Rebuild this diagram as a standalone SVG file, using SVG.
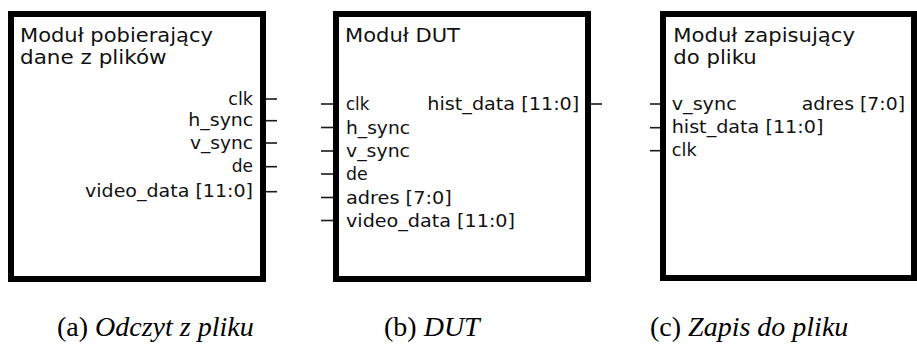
<svg xmlns="http://www.w3.org/2000/svg" width="917" height="354" viewBox="0 0 917 354">
  <style>
    .box { fill: #ffffff; stroke: #000000; stroke-width: 6; }
    .pin { stroke: #1a1a1a; stroke-width: 1.6; fill: none; }
    .title { font-family: "DejaVu Sans", Verdana, sans-serif; font-size: 20px; fill: #111111; }
    .sig { font-family: "DejaVu Sans", Verdana, sans-serif; font-size: 18.5px; fill: #111111; }
    .cap { font-family: "Liberation Serif", "Times New Roman", serif; font-size: 28px; fill: #000000; }
    .cap tspan.it { font-style: italic; }
  </style>
  <rect width="917" height="354" fill="#ffffff"/>

  <!-- file reader module -->
  <g id="reader">
    <rect class="box" x="11" y="14" width="252" height="265"/>
    <text class="title"><tspan x="20" y="41.5" textLength="193" lengthAdjust="spacingAndGlyphs">Moduł pobierający</tspan><tspan x="20" y="64" textLength="146.7" lengthAdjust="spacingAndGlyphs">dane z plików</tspan></text>
    <text class="sig" x="228.3" y="104.5" textLength="24.7" lengthAdjust="spacingAndGlyphs">clk</text>
    <text class="sig" x="188.3" y="126.3" textLength="65" lengthAdjust="spacingAndGlyphs">h_sync</text>
    <text class="sig" x="190" y="148.6" textLength="63" lengthAdjust="spacingAndGlyphs">v_sync</text>
    <text class="sig" x="231.7" y="172.2" textLength="21.3" lengthAdjust="spacingAndGlyphs">de</text>
    <text class="sig" x="85" y="197.2" textLength="168" lengthAdjust="spacingAndGlyphs">video_data [11:0]</text>
  </g>

  <!-- device under test -->
  <g id="dut">
    <rect class="box" x="336" y="14" width="252" height="265"/>
    <text class="title" x="345" y="41.5" textLength="115" lengthAdjust="spacingAndGlyphs">Moduł DUT</text>
    <text class="sig" x="346" y="110" textLength="23.3" lengthAdjust="spacingAndGlyphs">clk</text>
    <text class="sig" x="346" y="133.5" textLength="64" lengthAdjust="spacingAndGlyphs">h_sync</text>
    <text class="sig" x="346" y="157" textLength="64" lengthAdjust="spacingAndGlyphs">v_sync</text>
    <text class="sig" x="346" y="180" textLength="21.7" lengthAdjust="spacingAndGlyphs">de</text>
    <text class="sig" x="346" y="203.5" textLength="105.7" lengthAdjust="spacingAndGlyphs">adres [7:0]</text>
    <text class="sig" x="346" y="226.5" textLength="169" lengthAdjust="spacingAndGlyphs">video_data [11:0]</text>
    <text class="sig" x="427.3" y="110" textLength="152" lengthAdjust="spacingAndGlyphs">hist_data [11:0]</text>
  </g>

  <!-- file writer module -->
  <g id="writer">
    <rect class="box" x="663" y="14" width="251" height="264"/>
    <text class="title"><tspan x="673.3" y="41.5" textLength="181.7" lengthAdjust="spacingAndGlyphs">Moduł zapisujący</tspan><tspan x="673.3" y="64" textLength="83.4" lengthAdjust="spacingAndGlyphs">do pliku</tspan></text>
    <text class="sig" x="671.7" y="109.5" textLength="65" lengthAdjust="spacingAndGlyphs">v_sync</text>
    <text class="sig" x="671.7" y="133.3" textLength="151.7" lengthAdjust="spacingAndGlyphs">hist_data [11:0]</text>
    <text class="sig" x="671.7" y="156" textLength="25" lengthAdjust="spacingAndGlyphs">clk</text>
    <text class="sig" x="801.7" y="109.5" textLength="103.3" lengthAdjust="spacingAndGlyphs">adres [7:0]</text>
  </g>

  <!-- port stubs -->
  <g id="connectors">
    <line class="pin" x1="266" y1="99" x2="277" y2="99"/>
    <line class="pin" x1="266" y1="120.7" x2="277" y2="120.7"/>
    <line class="pin" x1="266" y1="143" x2="277" y2="143"/>
    <line class="pin" x1="266" y1="166.7" x2="277" y2="166.7"/>
    <line class="pin" x1="266" y1="191.7" x2="277" y2="191.7"/>

    <line class="pin" x1="321" y1="104" x2="333" y2="104"/>
    <line class="pin" x1="321" y1="127.5" x2="333" y2="127.5"/>
    <line class="pin" x1="321" y1="151" x2="333" y2="151"/>
    <line class="pin" x1="321" y1="174" x2="333" y2="174"/>
    <line class="pin" x1="321" y1="197.5" x2="333" y2="197.5"/>
    <line class="pin" x1="321" y1="220.5" x2="333" y2="220.5"/>
    <line class="pin" x1="591" y1="104" x2="602" y2="104"/>

    <line class="pin" x1="650" y1="104" x2="660" y2="104"/>
    <line class="pin" x1="650" y1="127.7" x2="660" y2="127.7"/>
    <line class="pin" x1="650" y1="150.7" x2="660" y2="150.7"/>
  </g>

  <!-- sub-captions -->
  <g id="captions">
    <text class="cap" x="57" y="336">(a) <tspan class="it">Odczyt z pliku</tspan></text>
    <text class="cap" x="384" y="336">(b) <tspan class="it">DUT</tspan></text>
    <text class="cap" x="650" y="336">(c) <tspan class="it">Zapis do pliku</tspan></text>
  </g>
</svg>
